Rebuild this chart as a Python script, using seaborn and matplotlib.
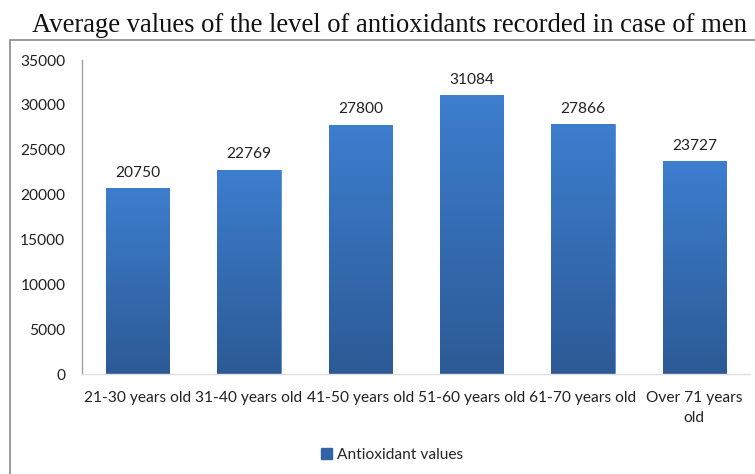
import numpy as np
import pandas as pd
import matplotlib
matplotlib.use("Agg")
import matplotlib.pyplot as plt
import seaborn as sns
from matplotlib.patches import Rectangle, Patch
from matplotlib.colors import LinearSegmentedColormap

categories = ["21-30 years old", "31-40 years old", "41-50 years old",
              "51-60 years old", "61-70 years old", "Over 71 years\nold"]
values = [20750, 22769, 27800, 31084, 27866, 23727]
yticks = [0, 5000, 10000, 15000, 20000, 25000, 30000, 35000]
series_name = "Antioxidant values"
title = "Average values of the level of antioxidants recorded in case of men"

sns.set_theme(style="white")
plt.rcParams["font.family"] = ["Lato", "DejaVu Sans"]

FS = 11.2
df = pd.DataFrame({"cat": categories, "val": values})

fig = plt.figure(figsize=(7.55, 4.74), dpi=100)
fig.patch.set_facecolor("white")
ax = fig.add_axes([82/755, 100/474, 668/755, 314/474])

sns.barplot(data=df, x="cat", y="val", color="#3a74bd", width=0.57,
            ax=ax, saturation=1)

ax.set_ylim(0, 35000)
ax.set_xlim(-0.5, len(categories) - 0.5)
ax.set_yticks(yticks)
ax.set_yticklabels([str(t) for t in yticks])
ax.set_xlabel("")
ax.set_ylabel("")
ax.tick_params(axis="both", length=0, labelsize=FS, colors="#222222")
ax.tick_params(axis="y", pad=12)
ax.tick_params(axis="x", pad=12.5)
for s in ["top", "right"]:
    ax.spines[s].set_visible(False)
ax.spines["left"].set_color("#a0a0a0")
ax.spines["left"].set_linewidth(1.0)
ax.spines["bottom"].set_color("#e0e0e0")
ax.spines["bottom"].set_linewidth(1.0)

# gradient fill for bars
cmap = LinearSegmentedColormap.from_list("g", ["#2c5a95", "#3d7ecf"])
grad = np.linspace(0, 1, 256).reshape(-1, 1)
for p in ax.patches:
    x0, y0 = p.get_x(), p.get_y()
    w, h = p.get_width(), p.get_height()
    p.set_edgecolor("#5a8fd0")
    p.set_linewidth(0.6)
    im = ax.imshow(grad, cmap=cmap, origin="lower", aspect="auto",
                   extent=[x0, x0 + w, y0, y0 + h], zorder=p.get_zorder() + 0.1)
    im.set_clip_path(p)

ax.set_xlim(-0.5, len(categories) - 0.5)
ax.set_ylim(0, 35000)

for i, v in enumerate(values):
    ax.annotate(str(v), (i, v), xytext=(0, 6), textcoords="offset points",
                ha="center", va="bottom", fontsize=FS, color="#222222")

for lbl in ax.get_xticklabels():
    lbl.set_multialignment("center")
    lbl.set_linespacing(1.55)

# outer chart border
fig.add_artist(Rectangle((10/755, -0.05), 1.0, (474 - 40)/474 + 0.05,
                         transform=fig.transFigure, fill=False,
                         edgecolor="#8a8a8a", linewidth=1.2, clip_on=False))

fig.text(389/755, 1 - 25/474, title, ha="center", va="center",
         fontsize=19.2, family=["Liberation Serif", "DejaVu Serif"], color="#111111")

handle = Patch(facecolor="#3263a6", edgecolor="#3263a6")
fig.legend([handle], [series_name], loc="center", bbox_to_anchor=(392/755, 1 - 455/474),
           frameon=False, fontsize=FS, handlelength=0.7, handleheight=0.7,
           handletextpad=0.3)

fig.savefig("out.png", dpi=100)
